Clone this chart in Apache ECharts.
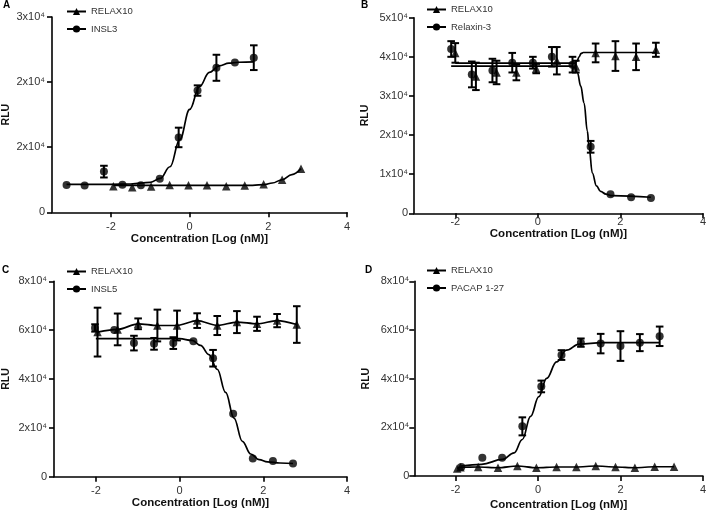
<!DOCTYPE html>
<html>
<head>
<meta charset="utf-8">
<script src="https://cdn.jsdelivr.net/npm/echarts@6/dist/echarts.min.js"></script>
<style>html,body{margin:0;padding:0;background:#fff}#c{width:709px;height:512px}</style>
</head>
<body>
<div id="c"></div>
<script>
// ---------- DATA ----------
const xTickValues = [-2, 0, 2, 4];
const xAxisTitle = 'Concentration [Log (nM)]';
const yAxisTitle = 'RLU';
const panelLetters = ['A', 'B', 'C', 'D'];

// Panel A
const A_yTickLabels = ['0', '2x10\u2074', '2x10\u2074', '3x10\u2074'];
const A_names = ['RELAX10', 'INSL3'];
const A_relaxX = [-1.94, -1.46, -0.98, -0.51, -0.03, 0.44, 0.93, 1.40, 1.88, 2.35, 2.83];
const A_relaxY = [4000, 3850, 3950, 4200, 4150, 4150, 4000, 4100, 4300, 5000, 6700];
const A_relaxErr = [0, 0, 0, 0, 0, 0, 0, 0, 0, 0, 0];
const A_relaxFitX = [-1.94, 1.6, 1.9, 2.1, 2.35, 2.6, 2.83];
const A_relaxFitY = [4150, 4150, 4250, 4500, 5000, 5800, 6700];
const A_inslX = [-3.13, -2.67, -2.18, -1.71, -1.24, -0.76, -0.28, 0.20, 0.68, 1.15, 1.63];
const A_inslY = [4200, 4100, 6250, 4250, 4150, 5150, 11500, 18700, 22200, 23000, 23750];
const A_inslErr = [0, 0, 900, 0, 0, 0, 1500, 800, 2000, 0, 1900];
const A_inslFitX = [-3.13, -2, -1.5, -1.0, -0.75, -0.5, -0.25, 0, 0.25, 0.5, 0.75, 1.0, 1.25, 1.63];
const A_inslFitY = [4300, 4300, 4350, 4600, 5200, 7000, 11200, 15800, 19300, 21500, 22500, 22900, 23050, 23100];

// Panel B
const B_yTickLabels = ['0', '1x10\u2074', '2x10\u2074', '3x10\u2074', '4x10\u2074', '5x10\u2074'];
const B_names = ['RELAX10', 'Relaxin-3'];
const B_relaxX = [-2.0, -1.5, -1.0, -0.52, -0.04, 0.46, 0.92, 1.40, 1.88, 2.38, 2.86];
const B_relaxY = [41000, 35000, 36000, 36000, 37000, 39000, 37500, 41000, 40200, 40000, 41800];
const B_relaxErr = [2500, 3500, 3000, 2000, 1200, 3500, 1500, 2400, 3800, 3400, 1800];
const B_relaxFitX = [-2.0, 0.9, 0.95, 1.0, 1.05, 1.1, 2.86];
const B_relaxFitY = [38400, 38400, 38900, 40000, 40900, 41100, 41100];
const B_r3X = [-2.10, -1.60, -1.10, -0.62, -0.12, 0.34, 0.84, 1.28, 1.76, 2.26, 2.74];
const B_r3Y = [42000, 35500, 36500, 38500, 38500, 40000, 38000, 17000, 4900, 4100, 3900];
const B_r3Err = [2000, 3300, 3000, 2500, 1500, 2500, 2000, 1500, 0, 0, 0];
const B_r3FitX = [-2.1, 0.8, 0.9, 0.96, 1.04, 1.12, 1.2, 1.24, 1.32, 1.42, 1.52, 1.65, 1.8, 2.74];
const B_r3FitY = [37600, 37600, 37200, 35900, 32500, 28200, 21000, 17100, 10300, 7000, 5600, 4900, 4500, 4100];

// Panel C
const C_yTickLabels = ['0', '2x10\u2074', '4x10\u2074', '6x10\u2074', '8x10\u2074'];
const C_names = ['RELAX10', 'INSL5'];
const C_relaxX = [-1.96, -1.48, -0.99, -0.53, -0.06, 0.42, 0.90, 1.37, 1.85, 2.33, 2.80];
const C_relaxY = [59200, 60300, 62600, 61900, 61900, 63900, 61900, 63300, 62600, 63900, 62300];
const C_relaxErr = [10000, 6500, 2200, 6500, 6100, 3000, 3900, 4500, 2900, 2700, 7500];
const C_inslX = [-2.02, -1.56, -1.09, -0.61, -0.15, 0.33, 0.80, 1.28, 1.75, 2.23, 2.71];
const C_inslY = [60900, 60100, 54700, 54400, 54700, 55500, 48500, 25800, 7500, 6400, 5400];
const C_inslErr = [1500, 0, 3000, 2400, 2400, 0, 3400, 0, 0, 0, 0];
const C_inslFitX = [-2.0, 0.0, 0.3, 0.5, 0.7, 0.9, 1.1, 1.3, 1.5, 1.7, 1.9, 2.1, 2.4, 2.71];
const C_inslFitY = [56500, 56500, 55800, 53800, 50000, 44000, 34500, 24000, 14500, 9300, 7000, 6100, 5600, 5400];

// Panel D
const D_yTickLabels = ['0', '2x10\u2074', '4x10\u2074', '6x10\u2074', '8x10\u2074'];
const D_names = ['RELAX10', 'PACAP 1-27'];
const D_relaxX = [-1.96, -1.88, -1.45, -0.97, -0.50, -0.04, 0.45, 0.93, 1.40, 1.88, 2.35, 2.83, 3.30];
const D_relaxY = [3100, 3600, 3700, 3400, 4100, 3400, 3700, 3700, 4100, 3700, 3400, 3800, 3800];
const D_relaxErr = [0, 0, 0, 0, 0, 0, 0, 0, 0, 0, 0, 0, 0];
const D_pacX = [-1.86, -1.35, -0.87, -0.38, 0.08, 0.57, 1.04, 1.52, 2.00, 2.47, 2.95];
const D_pacY = [3700, 7500, 7500, 20400, 36800, 49700, 54800, 54400, 53400, 54800, 57400];
const D_pacErr = [0, 0, 0, 3700, 2400, 2000, 1700, 4000, 6100, 3500, 4000];
const D_pacFitX = [-1.86, -1.37, -0.86, -0.58, -0.38, -0.18, 0.02, 0.21, 0.45, 0.69, 1.0, 1.56, 2.95];
const D_pacFitY = [4100, 4800, 6800, 9500, 15000, 24500, 32600, 40100, 46900, 51700, 54200, 54800, 54800];

// ---------- LAYOUT / STYLE ----------
const FONT = "'Liberation Sans', Arial, Helvetica, sans-serif";
const INK = '#000';
const LABEL = '#333';
const panels = [
  { grid: {left: 52, top: 17, width: 295, height: 195.3}, xMin: -3.5, yMax: 30000, yInt: 10000, yLabels: A_yTickLabels,
    xMargin: 9, xNameGap: 20, yMargin: 7, yNameGap: 40,
    legend: {left: 66, top: 6.5}, letter: {left: 3, top: 0} },
  { grid: {left: 414, top: 17.7, width: 292.5, height: 195.6}, xMin: -3, yMax: 50000, yInt: 10000, yLabels: B_yTickLabels,
    xMargin: 3, xNameGap: 9, yMargin: 6, yNameGap: 43,
    legend: {left: 426, top: 4.5}, letter: {left: 361, top: 0} },
  { grid: {left: 53, top: 281.3, width: 294, height: 195.4}, xMin: -3, yMax: 80000, yInt: 20000, yLabels: C_yTickLabels,
    xMargin: 8.5, xNameGap: 20, yMargin: 7, yNameGap: 42,
    legend: {left: 66, top: 266.5}, letter: {left: 2, top: 265} },
  { grid: {left: 414.3, top: 281.3, width: 292.4, height: 195.4}, xMin: -3, yMax: 80000, yInt: 20000, yLabels: D_yTickLabels,
    xMargin: 8, xNameGap: 23, yMargin: 5, yNameGap: 43,
    legend: {left: 426, top: 265.5}, letter: {left: 365, top: 265} }
];

function zip(xs, ys) { return xs.map((x, i) => [x, ys[i]]); }

function fitSeries(gi, name, sym, xs, ys, smooth) {
  return { type: 'line', name, xAxisIndex: gi, yAxisIndex: gi, data: zip(xs, ys),
    symbol: sym, showSymbol: false, smooth: smooth, smoothMonotone: 'x', silent: true,
    lineStyle: {color: INK, width: 1.7}, itemStyle: {color: INK}, z: 2 };
}
function pointSeries(gi, name, sym, xs, ys) {
  return { type: 'scatter', name, xAxisIndex: gi, yAxisIndex: gi, data: zip(xs, ys),
    symbol: sym, symbolSize: sym === 'triangle' ? 8.5 : 8, itemStyle: {color: INK}, z: 4, silent: true };
}
function errSeries(gi, name, xs, ys, es) {
  const data = [];
  xs.forEach((x, i) => { if (es[i] > 0) data.push([x, ys[i] - es[i], ys[i] + es[i]]); });
  return { type: 'custom', name: name + ' SEM', xAxisIndex: gi, yAxisIndex: gi, data, silent: true, z: 3,
    encode: {x: 0, y: [1, 2]},
    renderItem(params, api) {
      const x = api.value(0);
      const lo = api.coord([x, api.value(1)]);
      const hi = api.coord([x, api.value(2)]);
      const w = 3.8, st = {stroke: INK, lineWidth: 2};
      return { type: 'group', children: [
        {type: 'line', shape: {x1: lo[0], y1: lo[1], x2: hi[0], y2: hi[1]}, style: st},
        {type: 'line', shape: {x1: lo[0] - w, y1: lo[1], x2: lo[0] + w, y2: lo[1]}, style: st},
        {type: 'line', shape: {x1: hi[0] - w, y1: hi[1], x2: hi[0] + w, y2: hi[1]}, style: st}
      ]};
    }
  };
}

const grid = [], xAxis = [], yAxis = [], legend = [], title = [];
panels.forEach((p, gi) => {
  grid.push(Object.assign({containLabel: false}, p.grid));
  xAxis.push({ type: 'value', gridIndex: gi, min: p.xMin, max: 4,
    axisLine: {show: true, onZero: false, lineStyle: {color: INK, width: 1.6}},
    axisTick: {show: true, customValues: xTickValues, length: 5, lineStyle: {color: INK, width: 1.6}},
    axisLabel: {customValues: xTickValues, color: LABEL, fontSize: 11, fontFamily: FONT, margin: p.xMargin,
      formatter: v => String(v)},
    splitLine: {show: false},
    name: xAxisTitle, nameLocation: 'middle', nameGap: p.xNameGap,
    nameTextStyle: {color: '#111', fontSize: 11.5, fontWeight: 'bold', fontFamily: FONT} });
  yAxis.push({ type: 'value', gridIndex: gi, min: 0, max: p.yMax, interval: p.yInt,
    axisLine: {show: true, onZero: false, lineStyle: {color: INK, width: 1.6}},
    axisTick: {show: true, length: 5, lineStyle: {color: INK, width: 1.6}},
    axisLabel: {color: LABEL, fontSize: 11, fontFamily: FONT, margin: p.yMargin,
      formatter: v => p.yLabels[Math.round(v / p.yInt)]},
    splitLine: {show: false},
    name: yAxisTitle, nameLocation: 'middle', nameGap: p.yNameGap, nameRotate: 90,
    nameTextStyle: {color: '#111', fontSize: 10.5, fontWeight: 'bold', fontFamily: FONT} });
  title.push({ text: panelLetters[gi], left: p.letter.left, top: p.letter.top, padding: 0,
    textStyle: {fontSize: 10, fontWeight: 'bold', color: INK, fontFamily: FONT} });
});

const names = [A_names, B_names, C_names, D_names];
panels.forEach((p, gi) => {
  legend.push({ orient: 'vertical', left: p.legend.left, top: p.legend.top, padding: 0,
    itemWidth: 19, itemHeight: 9, itemGap: 7.5, selectedMode: false,
    textStyle: {fontSize: 9.5, color: LABEL, fontFamily: FONT},
    data: names[gi] });
});

const series = [
  // A
  fitSeries(0, A_names[0], 'triangle', A_relaxFitX, A_relaxFitY, 0.4),
  pointSeries(0, A_names[0], 'triangle', A_relaxX, A_relaxY),
  errSeries(0, A_names[0], A_relaxX, A_relaxY, A_relaxErr),
  fitSeries(0, A_names[1], 'circle', A_inslFitX, A_inslFitY, 0.4),
  pointSeries(0, A_names[1], 'circle', A_inslX, A_inslY),
  errSeries(0, A_names[1], A_inslX, A_inslY, A_inslErr),
  // B
  fitSeries(1, B_names[0], 'triangle', B_relaxFitX, B_relaxFitY, 0.4),
  pointSeries(1, B_names[0], 'triangle', B_relaxX, B_relaxY),
  errSeries(1, B_names[0], B_relaxX, B_relaxY, B_relaxErr),
  fitSeries(1, B_names[1], 'circle', B_r3FitX, B_r3FitY, 0.4),
  pointSeries(1, B_names[1], 'circle', B_r3X, B_r3Y),
  errSeries(1, B_names[1], B_r3X, B_r3Y, B_r3Err),
  // C
  fitSeries(2, C_names[0], 'triangle', C_relaxX, C_relaxY, 0.3),
  pointSeries(2, C_names[0], 'triangle', C_relaxX, C_relaxY),
  errSeries(2, C_names[0], C_relaxX, C_relaxY, C_relaxErr),
  fitSeries(2, C_names[1], 'circle', C_inslFitX, C_inslFitY, 0.4),
  pointSeries(2, C_names[1], 'circle', C_inslX, C_inslY),
  errSeries(2, C_names[1], C_inslX, C_inslY, C_inslErr),
  // D
  fitSeries(3, D_names[0], 'triangle', D_relaxX, D_relaxY, 0.3),
  pointSeries(3, D_names[0], 'triangle', D_relaxX, D_relaxY),
  errSeries(3, D_names[0], D_relaxX, D_relaxY, D_relaxErr),
  fitSeries(3, D_names[1], 'circle', D_pacFitX, D_pacFitY, 0.4),
  pointSeries(3, D_names[1], 'circle', D_pacX, D_pacY),
  errSeries(3, D_names[1], D_pacX, D_pacY, D_pacErr)
];

const chart = echarts.init(document.getElementById('c'), null, {renderer: 'canvas'});
chart.setOption({
  backgroundColor: '#fff',
  animation: false,
  textStyle: {fontFamily: FONT},
  title, legend, grid, xAxis, yAxis, series
});
</script>
</body>
</html>
